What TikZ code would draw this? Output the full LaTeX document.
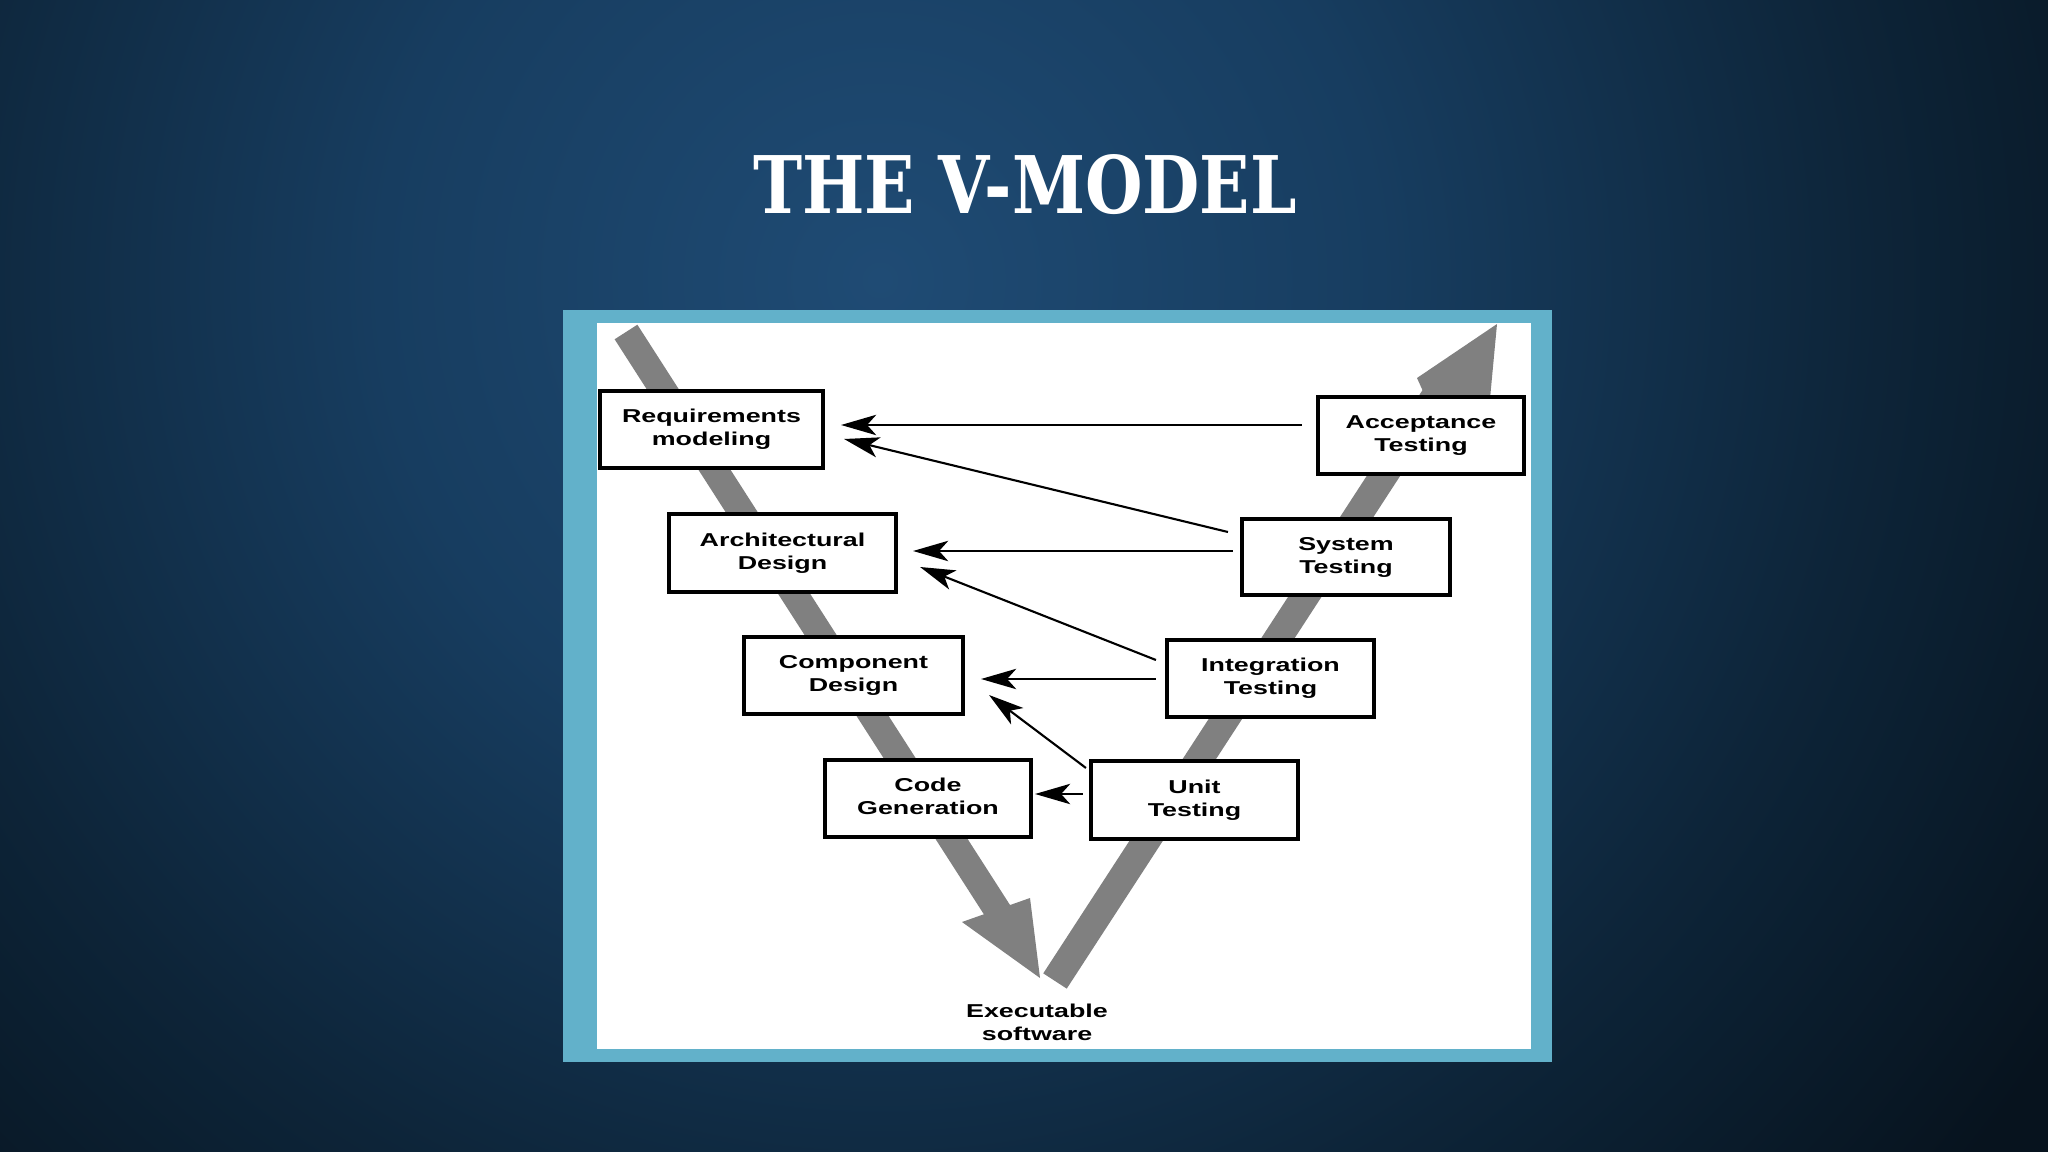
\documentclass[tikz,border=0pt]{standalone}
\usepackage{fontspec}
\usepackage{graphicx}
\usetikzlibrary{arrows.meta,calc}
\newfontfamily\boxfont{Liberation Sans}
\newfontfamily\titlefont{DejaVu Serif}
\definecolor{bglight}{HTML}{1F4B74}
\definecolor{bgmid}{HTML}{173D60}
\definecolor{bgdeep}{HTML}{0D2438}
\definecolor{bgdark}{HTML}{07131E}
\definecolor{framecyan}{HTML}{62B1CA}
\definecolor{vgray}{HTML}{808080}
\pgfdeclareradialshading{slidebg}{\pgfpoint{0cm}{0cm}}{color(0cm)=(bglight); color(5cm)=(bgmid); color(10cm)=(bgdeep); color(14cm)=(bgdark); color(25cm)=(bgdark)}
\newcommand{\stagetext}[2]{\scalebox{1.44}[1]{\begin{tabular}{@{}c@{}}#1\\#2\end{tabular}}}

\begin{document}
\begin{tikzpicture}[x=0.01cm, y=-0.01cm,
  stage/.style={draw, fill=white, line width=1.14pt, inner sep=0pt, font=\boxfont\bfseries\fontsize{5.3}{6.55}\selectfont},
  link/.style={-{Stealth[length=10pt, width=5.8pt, inset=2.6pt]}, line width=0.6pt}]
\clip (0,0) rectangle (2048,1152);
\useasboundingbox (0,0) rectangle (2048,1152);
\fill[bgdark] (0,0) rectangle (2048,1152);
\node[inner sep=0pt] (glow) at (880,280) {\pgfuseshading{slidebg}};
\node[text=white, font=\titlefont\bfseries\fontsize{22.6}{26}\selectfont, inner sep=0pt] (title) at (1025,185) {\resizebox{5.43cm}{\height}{THE V-MODEL}};
\fill[framecyan] (563,310) rectangle (1552,1062);
\fill[white] (597,323) rectangle (1531,1049);
\draw[vgray, line width=0.27cm] (626,332) -- (1010,930);
\fill[vgray] (962,922) -- (1040,978) -- (1030,898) -- cycle;
\draw[vgray, line width=0.28cm] (1055,981) -- (1438,392);
\fill[vgray] (1417,378) -- (1497,324) -- (1488,420) -- (1436,420) -- cycle;
\node[stage, minimum width=2.23cm, minimum height=0.77cm] (req) at (711.5,429.5) {\stagetext{Requirements}{modeling}};
\node[stage, minimum width=2.06cm, minimum height=0.77cm] (acc) at (1421,435.5) {\stagetext{Acceptance}{Testing}};
\node[stage, minimum width=2.27cm, minimum height=0.78cm] (arch) at (782.5,553) {\stagetext{Architectural}{Design}};
\node[stage, minimum width=2.08cm, minimum height=0.76cm] (sys) at (1346,557) {\stagetext{System}{Testing}};
\node[stage, minimum width=2.19cm, minimum height=0.77cm] (comp) at (853.5,675.5) {\stagetext{Component}{Design}};
\node[stage, minimum width=2.07cm, minimum height=0.77cm] (integ) at (1270.5,678.5) {\stagetext{Integration}{Testing}};
\node[stage, minimum width=2.06cm, minimum height=0.77cm] (code) at (928,798.5) {\stagetext{Code}{Generation}};
\node[stage, minimum width=2.07cm, minimum height=0.78cm] (unit) at (1194.5,800) {\stagetext{Unit}{Testing}};
\node[font=\boxfont\bfseries\fontsize{5.3}{6.55}\selectfont, inner sep=0pt] (exe) at (1037,1024.5) {\stagetext{Executable}{software}};
\draw[link] ($(acc.west)+(-14,-10.5)$) -- ($(req.east)+(16,-4.5)$);
\draw[link] ($(sys.west)+(-12,-25)$) -- ($(req.east)+(19,9.5)$);
\draw[link] ($(sys.west)+(-7,-6)$) -- ($(arch.east)+(15,-2)$);
\draw[link] ($(integ.west)+(-9,-18.5)$) -- ($(arch.east)+(22,14)$);
\draw[link] ($(integ.west)+(-9,0.5)$) -- ($(comp.east)+(16,3.5)$);
\draw[link] ($(unit.north west)+(-3,9)$) -- ($(comp.south east)+(24,-21)$);
\draw[link] ($(unit.west)+(-6,-6)$) -- ($(code.east)+(2,-4.5)$);
\end{tikzpicture}
\end{document}
